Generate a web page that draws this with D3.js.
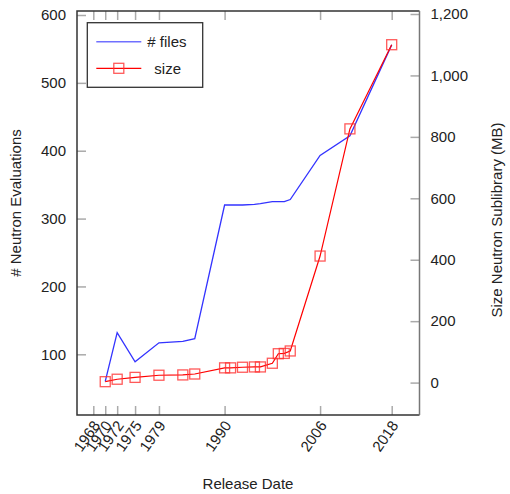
<!DOCTYPE html>
<html lang="en">
<head>
  <meta charset="UTF-8">
  <title>Neutron sublibrary</title>
  <style>
    body { margin: 0; background: #fff; }
    text { font-family: "Liberation Sans", Arial, sans-serif; fill: #222; }
  </style>
  <script src="https://d3js.org/d3.v7.min.js"></script>
</head>
<body>
<script>
  // release years and values
  var fileYears = [1970, 1972, 1975, 1979, 1983, 1985, 1990, 1991, 1993, 1995, 1996, 1998, 1999, 2000, 2001, 2006, 2011, 2018];
  var fileCounts = [60, 132, 89, 117, 119, 123, 320, 320, 320, 321, 322, 325, 325, 325, 328, 393, 422, 556];
  var sizeYears = [1970, 1972, 1975, 1979, 1983, 1985, 1990, 1991, 1993, 1995, 1996, 1998, 1999, 2000, 2001, 2006, 2011, 2018];
  var sizeMB = [3, 11, 17, 24, 25, 28, 48, 48, 50, 51, 51, 63, 94, 95, 103, 412, 826, 1100];
  var xTicks = [1968, 1970, 1972, 1975, 1979, 1990, 2006, 2018];
  var leftTicks = [100, 200, 300, 400, 500, 600];
  var rightTicks = [0, 200, 400, 600, 800, 1000, 1200];

  var width = 510, height = 494;
  var box = { left: 77, right: 419.5, top: 11, bottom: 415 };

  var x = d3.scaleLinear().domain([1968, 2018]).range([93.3, 391.7]);
  var yL = d3.scaleLinear().domain([100, 600]).range([354.3, 15]);
  var yR = d3.scaleLinear().domain([0, 1200]).range([382.6, 14]);

  var svg = d3.select("body").append("svg")
    .attr("width", width)
    .attr("height", height);

  var tickLen = 9;
  var xAxisB = d3.axisBottom(x).tickValues(xTicks).tickSize(-tickLen).tickFormat(d3.format("d"));
  var xAxisT = d3.axisTop(x).tickValues(xTicks).tickSize(-tickLen).tickFormat("");
  var yAxisL = d3.axisLeft(yL).tickValues(leftTicks).tickSize(-tickLen).tickPadding(11);
  var yAxisR = d3.axisRight(yR).tickValues(rightTicks).tickSize(-tickLen).tickPadding(11).tickFormat(d3.format(","));

  function style(g) {
    g.select(".domain").remove();
    g.selectAll(".tick line").attr("stroke", "#aaa").attr("stroke-width", 1.5);
    g.selectAll(".tick text").style("font-size", "15px").attr("fill", "#222");
  }

  svg.append("g").attr("transform", "translate(0," + box.bottom + ")").call(xAxisB).call(style)
    .selectAll(".tick text")
    .style("text-anchor", "end")
    .attr("dx", "-0.2em")
    .attr("dy", "0.5em")
    .attr("transform", "translate(0,2) rotate(-55)");
  svg.append("g").attr("transform", "translate(0," + box.top + ")").call(xAxisT).call(style);
  svg.append("g").attr("transform", "translate(" + box.left + ",0)").call(yAxisL).call(style);
  svg.append("g").attr("transform", "translate(" + box.right + ",0)").call(yAxisR).call(style);

  // plot box
  svg.append("path")
    .attr("d", "M" + box.right + "," + box.top + "H" + box.left + "V" + box.bottom + "H" + box.right)
    .attr("fill", "none").attr("stroke", "#333").attr("stroke-width", 1.5);
  svg.append("line")
    .attr("x1", box.right).attr("x2", box.right).attr("y1", box.top).attr("y2", box.bottom)
    .attr("stroke", "#777").attr("stroke-width", 1.5);

  // # files line
  var files = fileYears.map(function (d, i) { return [d, fileCounts[i]]; });
  svg.append("path")
    .datum(files)
    .attr("fill", "none")
    .attr("stroke", "#3333ff")
    .attr("stroke-width", 1.3)
    .attr("d", d3.line().x(function (d) { return x(d[0]); }).y(function (d) { return yL(d[1]); }));

  // size line + squares
  var sizes = sizeYears.map(function (d, i) { return [d, sizeMB[i]]; });
  svg.append("path")
    .datum(sizes)
    .attr("fill", "none")
    .attr("stroke", "#ff0000")
    .attr("stroke-width", 1.2)
    .attr("d", d3.line().x(function (d) { return x(d[0]); }).y(function (d) { return yR(d[1]); }));
  var sq = 10;
  svg.append("g").selectAll("rect")
    .data(sizes)
    .enter().append("rect")
    .attr("x", function (d) { return x(d[0]) - sq / 2; })
    .attr("y", function (d) { return yR(d[1]) - sq / 2; })
    .attr("width", sq).attr("height", sq)
    .attr("fill", "none")
    .attr("stroke", "#ff3030")
    .attr("stroke-opacity", 0.8)
    .attr("stroke-width", 1.3);

  // axis titles
  svg.append("text")
    .attr("transform", "translate(21,203) rotate(-90)")
    .attr("text-anchor", "middle")
    .style("font-size", "15px")
    .text("# Neutron Evaluations");
  svg.append("text")
    .attr("transform", "translate(502,220) rotate(-90)")
    .attr("text-anchor", "middle")
    .style("font-size", "15px")
    .text("Size Neutron Sublibrary (MB)");
  svg.append("text")
    .attr("x", 248).attr("y", 489)
    .attr("text-anchor", "middle")
    .style("font-size", "15px")
    .text("Release Date");

  // legend
  var lg = svg.append("g").attr("transform", "translate(87.3,22.7)");
  lg.append("rect").attr("width", 115.4).attr("height", 64.6)
    .attr("fill", "#fff").attr("stroke", "#333").attr("stroke-width", 1.3);
  lg.append("line").attr("x1", 9).attr("x2", 54).attr("y1", 19).attr("y2", 19)
    .attr("stroke", "#7070ff").attr("stroke-width", 1.5);
  lg.append("text").attr("x", 60).attr("y", 24.5).style("font-size", "15px").text("# files");
  lg.append("line").attr("x1", 9).attr("x2", 54).attr("y1", 45.6).attr("y2", 45.6)
    .attr("stroke", "#ff0000").attr("stroke-width", 1.2);
  lg.append("rect").attr("x", 31.5 - sq / 2).attr("y", 45.6 - sq / 2).attr("width", sq).attr("height", sq)
    .attr("fill", "none").attr("stroke", "#ff3030").attr("stroke-opacity", 0.8).attr("stroke-width", 1.3);
  lg.append("text").attr("x", 67).attr("y", 51).style("font-size", "15px").text("size");
</script>
</body>
</html>
